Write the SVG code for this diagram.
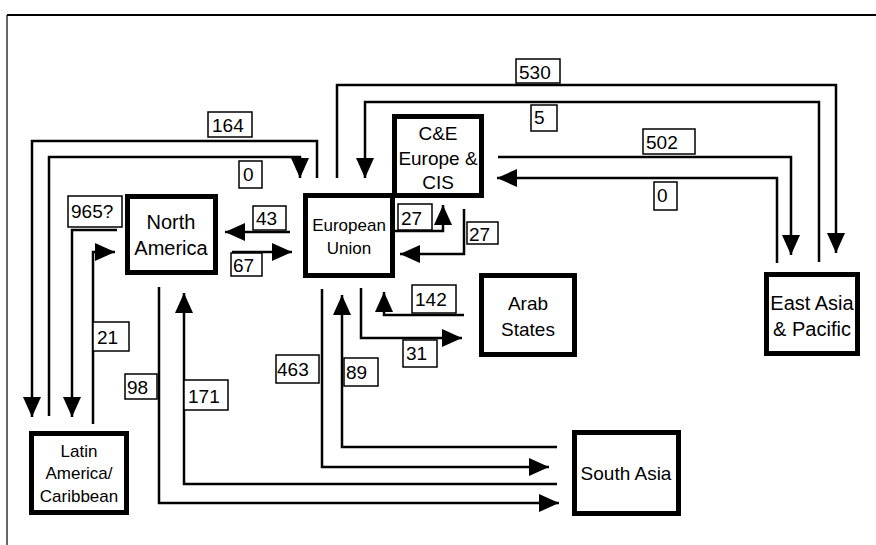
<svg xmlns="http://www.w3.org/2000/svg" width="876" height="545" viewBox="0 0 876 545">
<defs>
<marker id="ah" viewBox="0 0 20 18" refX="20" refY="9" markerWidth="20" markerHeight="18" markerUnits="userSpaceOnUse" orient="auto">
<path d="M0,0 L20,9 L0,18 Z" fill="#000"/>
</marker>
<style>
.node rect{fill:#fff;stroke:#000;stroke-width:5}
.node text{font-family:"Liberation Sans",Arial,sans-serif;font-size:19px;text-anchor:middle;fill:#000}
.c path{fill:none;stroke:#000;stroke-width:2.5}
.c path.a{marker-end:url(#ah)}
.lbl rect{fill:#fff;stroke:#000;stroke-width:1.5}
.lbl text{font-family:"Liberation Sans",Arial,sans-serif;font-size:19px;fill:#000}
</style>
</defs>
<rect width="876" height="545" fill="#fff"/>
<g id="frame">
<line x1="7" y1="15" x2="876" y2="15" stroke="#000" stroke-width="2"/>
<line x1="7" y1="15" x2="7" y2="545" stroke="#000" stroke-width="1.2"/>
</g>
<g id="connectors" class="c">
<path class="a" d="M317,178 V141 H32 V417"/>
<path class="a" d="M49,416 V157 H300 V178"/>
<path class="a" d="M117,230 H72 V417"/>
<path class="a" d="M93,424 V252 H115"/>
<path class="a" d="M290,232 H225"/>
<path class="a" d="M232,252 H292"/>
<path class="a" d="M159,287 V503 H559"/>
<path class="a" d="M557,484 H184 V293"/>
<path class="a" d="M322,289 V467 H549"/>
<path class="a" d="M557,447 H342 V295"/>
<path class="a" d="M464,315 H384 V292"/>
<path class="a" d="M361,288 V338 H462"/>
<path class="a" d="M395,231 H443 V205"/>
<path class="a" d="M464,209 V254 H400"/>
<path class="a" d="M337,178 V85 H836 V253"/>
<path class="a" d="M819,262 V102 H365 V178"/>
<path class="a" d="M498,157 H791 V255"/>
<path class="a" d="M777,263 V178 H497"/>
</g>
<g id="north-america" class="node">
<rect x="127.5" y="196.5" width="88" height="76"/>
<text x="171" y="229" style="font-size:20px">North</text>
<text x="171" y="255" style="font-size:20px">America</text>
</g>
<g id="european-union" class="node">
<rect x="305.5" y="195.5" width="87" height="80"/>
<text x="349" y="231" style="font-size:17px">European</text>
<text x="349" y="254" style="font-size:17px">Union</text>
</g>
<g id="ce-europe-cis" class="node">
<rect x="394.5" y="116.5" width="87" height="79"/>
<text x="438" y="140">C&amp;E</text>
<text x="438" y="165">Europe &amp;</text>
<text x="438" y="189">CIS</text>
</g>
<g id="arab-states" class="node">
<rect x="481.5" y="275.5" width="93" height="79"/>
<text x="528" y="310">Arab</text>
<text x="528" y="336">States</text>
</g>
<g id="south-asia" class="node">
<rect x="574.5" y="432.5" width="104" height="81"/>
<text x="626" y="480">South Asia</text>
</g>
<g id="east-asia-pacific" class="node">
<rect x="766.5" y="274.5" width="91" height="79"/>
<text x="812" y="310" style="font-size:20px">East Asia</text>
<text x="812" y="336" style="font-size:20px">&amp; Pacific</text>
</g>
<g id="latin-america" class="node">
<rect x="31.5" y="433.5" width="95" height="79"/>
<text x="79" y="457" style="font-size:17px">Latin</text>
<text x="79" y="479" style="font-size:17px">America/</text>
<text x="79" y="502" style="font-size:17px">Caribbean</text>
</g>
<g id="labels" class="lbl">
<g id="l164"><rect x="208" y="112" width="44" height="25"/><text x="212" y="132">164</text></g>
<g id="l0a"><rect x="239" y="161" width="23" height="27"/><text x="243" y="181">0</text></g>
<g id="l965"><rect x="68" y="196" width="54" height="31"/><text x="71" y="218">965?</text></g>
<g id="l43"><rect x="253" y="206" width="33" height="24"/><text x="256" y="225">43</text></g>
<g id="l67"><rect x="231" y="253" width="31" height="23"/><text x="233" y="272">67</text></g>
<g id="l27a"><rect x="398" y="204" width="34" height="26"/><text x="401" y="225">27</text></g>
<g id="l27b"><rect x="467" y="222" width="31" height="22"/><text x="469" y="241">27</text></g>
<g id="l530"><rect x="516" y="59" width="44" height="24"/><text x="519" y="79">530</text></g>
<g id="l5"><rect x="531" y="105" width="26" height="26"/><text x="534" y="124">5</text></g>
<g id="l502"><rect x="643" y="129" width="52" height="25"/><text x="646" y="149">502</text></g>
<g id="l0b"><rect x="654" y="182" width="23" height="28"/><text x="657" y="202">0</text></g>
<g id="l142"><rect x="412" y="285" width="44" height="28"/><text x="415" y="306">142</text></g>
<g id="l31"><rect x="403" y="340" width="34" height="27"/><text x="406" y="360">31</text></g>
<g id="l463"><rect x="276" y="355" width="43" height="28"/><text x="277" y="376">463</text></g>
<g id="l89"><rect x="344" y="358" width="34" height="28"/><text x="346" y="379">89</text></g>
<g id="l21"><rect x="93" y="322" width="36" height="29"/><text x="97" y="344">21</text></g>
<g id="l98"><rect x="125" y="374" width="32" height="25"/><text x="127" y="394">98</text></g>
<g id="l171"><rect x="184" y="380" width="44" height="30"/><text x="188" y="403">171</text></g>
</g>
</svg>
